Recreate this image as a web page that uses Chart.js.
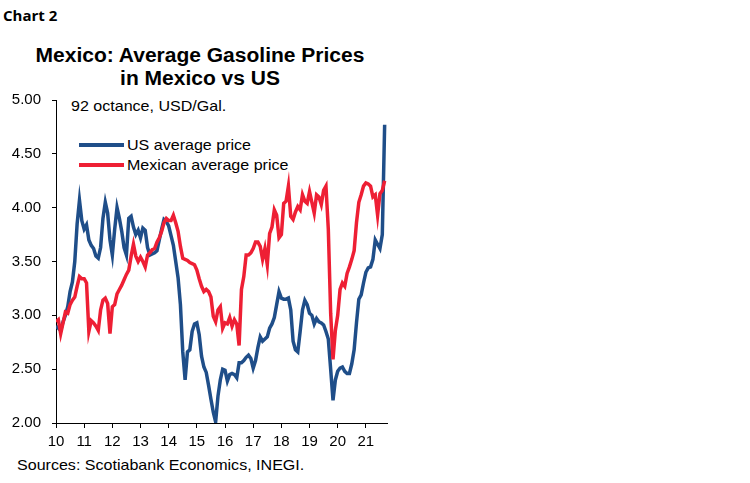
<!DOCTYPE html>
<html>
<head>
<meta charset="utf-8">
<script src="https://cdn.jsdelivr.net/npm/chart.js@4.4.1/dist/chart.umd.min.js"></script>
<style>
  body { margin: 0; background: #fff; width: 750px; height: 483px; overflow: hidden; position: relative; font-family: "Liberation Sans", Arial, sans-serif; }
  #grafico { position: absolute; left: 0; top: 0; }
  .txt { position: absolute; white-space: nowrap; color: #000; transform-origin: left center; transform: scaleX(1.07); }
  #chartNo { left: 3px; top: 5px; font: 700 15px "Open Sans", sans-serif; transform: none; }
  #titulo { left: 0; width: 400px; top: 44px; text-align: center; font: 700 20px/23px "Liberation Sans", Arial, sans-serif; transform-origin: 200px center; transform: scaleX(1.05); }
  #unidade { left: 71px; top: 98px; font: 15px/16px "Liberation Sans", Arial, sans-serif; }
  #fonte { left: 17px; top: 457px; font: 15px/16px "Liberation Sans", Arial, sans-serif; }
  #minhaLegenda { position: absolute; left: 79px; top: 135px; margin: 0; padding: 0; list-style: none; font: 15px/20px "Liberation Sans", Arial, sans-serif; }
  #minhaLegenda li { height: 20px; }
  #minhaLegenda .nome { display: inline-block; transform-origin: left center; transform: scaleX(1.07); }
</style>
</head>
<body>
<div class="txt" id="chartNo">Chart 2</div>
<div class="txt" id="titulo">Mexico: Average Gasoline Prices<br>in Mexico vs US</div>
<div class="txt" id="unidade">92 octance, USD/Gal.</div>
<ul id="minhaLegenda"></ul>
<div class="txt" id="fonte">Sources: Scotiabank Economics, INEGI.</div>
<canvas id="grafico" width="750" height="483"></canvas>
<script>
// monthly, Jan 2010 onwards
const anos = ['10', '11', '12', '13', '14', '15', '16', '17', '18', '19', '20', '21'];

const precoEUA = [
  2.90, 2.88, 2.86, 2.94, 3.00, 3.08, 3.22, 3.31, 3.50, 3.85, 4.07, 3.88,
  3.80, 3.84, 3.70, 3.65, 3.62, 3.55, 3.53, 3.63, 3.90, 4.05, 3.95, 3.70,
  3.56, 3.80, 4.00, 3.90, 3.78, 3.63, 3.56, 3.90, 3.92, 3.82, 3.75, 3.79,
  3.72, 3.81, 3.79, 3.63, 3.56, 3.57, 3.58, 3.60, 3.70, 3.80, 3.89, 3.87,
  3.83, 3.74, 3.65, 3.50, 3.35, 3.10, 2.66, 2.40, 2.66, 2.68, 2.85, 2.92,
  2.93, 2.82, 2.62, 2.52, 2.47, 2.35, 2.22, 2.10, 2.01, 2.25, 2.40, 2.50,
  2.49, 2.39, 2.45, 2.46, 2.45, 2.42, 2.56, 2.56, 2.58, 2.61, 2.63, 2.60,
  2.51, 2.58, 2.70, 2.80, 2.76, 2.78, 2.80, 2.88, 2.92, 2.98, 3.10, 3.22,
  3.16, 3.15, 3.15, 3.16, 3.05, 2.76, 2.68, 2.66, 2.85, 3.05, 3.14, 3.10,
  3.02, 3.00, 2.92, 2.97, 2.94, 2.93, 2.91, 2.85, 2.78, 2.50, 2.21, 2.40,
  2.48, 2.51, 2.52, 2.48, 2.46, 2.46, 2.55, 2.68, 2.93, 3.15, 3.19, 3.30,
  3.40, 3.44, 3.45, 3.52, 3.70, 3.66, 3.62, 3.75, 4.77
];

const precoMexico = [
  2.94, 2.96, 2.83, 2.93, 3.03, 3.02, 3.10, 3.14, 3.17, 3.27, 3.36, 3.34,
  3.34, 3.30, 2.85, 2.95, 2.93, 2.90, 2.86, 3.05, 3.14, 3.16, 3.11, 2.83,
  3.08, 3.10, 3.20, 3.24, 3.28, 3.33, 3.38, 3.42, 3.55, 3.66, 3.55, 3.50,
  3.54, 3.50, 3.45, 3.56, 3.58, 3.61, 3.62, 3.68, 3.72, 3.78, 3.86, 3.90,
  3.88, 3.88, 3.93, 3.86, 3.78, 3.64, 3.53, 3.52, 3.51, 3.49, 3.48, 3.47,
  3.42, 3.34, 3.27, 3.22, 3.24, 3.22, 3.17, 2.99, 2.94, 3.05, 3.08, 2.88,
  2.93, 2.92, 2.98, 2.90, 2.96, 2.92, 2.72, 3.24, 3.36, 3.56, 3.56, 3.58,
  3.62, 3.68, 3.68, 3.64, 3.52, 3.62, 3.47, 3.76, 3.82, 3.98, 3.93, 3.72,
  3.75, 4.04, 4.06, 4.20, 3.92, 3.89, 3.96, 4.01, 3.98, 4.12, 4.06, 4.04,
  4.15, 4.05, 3.95, 4.12, 4.10, 4.03, 4.16, 4.20, 3.80, 3.02, 2.59, 2.86,
  3.00, 3.24, 3.30, 3.27, 3.39, 3.45, 3.52, 3.60, 3.86, 4.05, 4.12, 4.20,
  4.23, 4.22, 4.20, 4.10, 4.12, 3.93, 4.13, 4.16, 4.25
];

const series = ['US average price', 'Mexican average price'];
const cores = ['#1f4e89', '#ee1f34'];

const fonteEixo = { family: '"Liberation Sans", Arial, sans-serif', size: 15 };

const ctx = document.getElementById('grafico').getContext('2d');

const grafico = new Chart(ctx, {
  type: 'line',
  data: {
    datasets: [
      {
        label: series[0],
        data: precoEUA.map((v, i) => ({ x: i, y: v })),
        borderColor: cores[0],
        borderWidth: 3.5,
        pointRadius: 0,
        tension: 0,
        order: 2
      },
      {
        label: series[1],
        data: precoMexico.map((v, i) => ({ x: i, y: v })),
        borderColor: cores[1],
        borderWidth: 3.5,
        pointRadius: 0,
        tension: 0,
        order: 1
      }
    ]
  },
  options: {
    responsive: false,
    animation: false,
    layout: { padding: { top: 100, right: 363, left: 0, bottom: 0 } },
    plugins: {
      legend: { display: false },
      tooltip: { enabled: false }
    },
    scales: {
      x: {
        type: 'linear',
        min: 0,
        max: 141,
        afterBuildTicks: s => { s.ticks = anos.map((a, i) => ({ value: i * 12 })); },
        afterFit: s => { s.height = 60; },
        grid: { drawOnChartArea: false, drawTicks: true, tickLength: 5, color: '#000' },
        border: { display: true, color: '#000', width: 1 },
        ticks: {
          color: '#000',
          font: fonteEixo,
          padding: 5,
          maxRotation: 0,
          autoSkip: false,
          callback: v => anos[Math.round(v / 12)]
        }
      },
      y: {
        min: 2,
        max: 5,
        afterFit: s => { s.width = 56; },
        grid: { drawOnChartArea: false, drawTicks: true, tickLength: 4, color: '#000' },
        border: { display: true, color: '#000', width: 1 },
        ticks: {
          stepSize: 0.5,
          color: '#000',
          font: fonteEixo,
          padding: 11,
          callback: v => v.toFixed(2)
        }
      }
    }
  }
});

const ul = document.getElementById('minhaLegenda');
series.forEach((nome, i) => {
  const li = document.createElement('li');
  li.innerHTML = `<span style="display:inline-block;width:45px;height:4px;background-color:${cores[i]};vertical-align:middle;margin-right:3px;position:relative;top:-1px;"></span><span class="nome">${nome}</span>`;
  ul.appendChild(li);
});
</script>
</body>
</html>
